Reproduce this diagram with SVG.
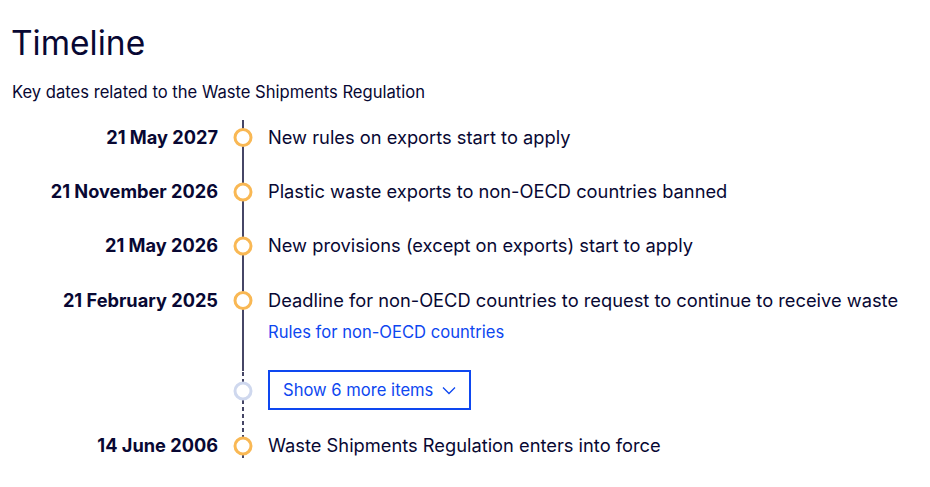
<svg xmlns="http://www.w3.org/2000/svg" width="930" height="487" viewBox="0 0 930 487">
<style>
text{font-family:Inter,"Noto Sans","Liberation Sans",sans-serif;fill:#080833}
.title{font-size:33.5px;font-weight:400}
.sub{font-size:16.6px}
.date{font-size:18.2px;font-weight:700;text-anchor:end}
.item{font-size:18.3px}
.link{font-size:16.6px;fill:#0e47f0}
.dot{fill:#fff;stroke:#f9b854;stroke-width:3}
.dot-grey{fill:#fff;stroke:#cfd8ee;stroke-width:3}
.line{stroke:#080833;stroke-width:1.5}
.dash{stroke:#080833;stroke-width:1.5;stroke-dasharray:4 3}
</style>
<rect width="930" height="487" fill="#fff"/>
<text class="title" x="11" y="55">Timeline</text>
<text class="sub" x="12" y="98">Key dates related to the Waste Shipments Regulation</text>
<g id="connectors">
<line class="line" x1="243" y1="120" x2="243" y2="371"/>
<line class="dash" x1="243" y1="372" x2="243" y2="438"/>
<line class="line" x1="243" y1="438" x2="243" y2="458"/>
</g>
<g id="item1">
<circle class="dot" cx="243" cy="137.5" r="8"/>
<text class="date" x="218" y="144">21 May 2027</text>
<text class="item" x="268" y="144">New rules on exports start to apply</text>
</g>
<g id="item2">
<circle class="dot" cx="243" cy="192" r="8"/>
<text class="date" x="218" y="198">21 November 2026</text>
<text class="item" x="268" y="198">Plastic waste exports to non-OECD countries banned</text>
</g>
<g id="item3">
<circle class="dot" cx="243" cy="246" r="8"/>
<text class="date" x="218" y="252">21 May 2026</text>
<text class="item" x="268" y="252">New provisions (except on exports) start to apply</text>
</g>
<g id="item4">
<circle class="dot" cx="243" cy="300.5" r="8"/>
<text class="date" x="218" y="307">21 February 2025</text>
<text class="item" x="268" y="307">Deadline for non-OECD countries to request to continue to receive waste</text>
<text class="link" x="268" y="338">Rules for non-OECD countries</text>
</g>
<g id="show-more">
<circle class="dot-grey" cx="243" cy="391" r="8"/>
<rect x="269" y="371" width="201" height="38" fill="#fff" stroke="#0e47f0" stroke-width="2"/>
<text class="link" x="283" y="396">Show 6 more items</text>
<path d="M443 387.5 L449 393.5 L455 387.5" fill="none" stroke="#0e47f0" stroke-width="1.3"/>
</g>
<g id="item5">
<circle class="dot" cx="243" cy="446" r="8"/>
<text class="date" x="218" y="452">14 June 2006</text>
<text class="item" x="268" y="452">Waste Shipments Regulation enters into force</text>
</g>
</svg>
